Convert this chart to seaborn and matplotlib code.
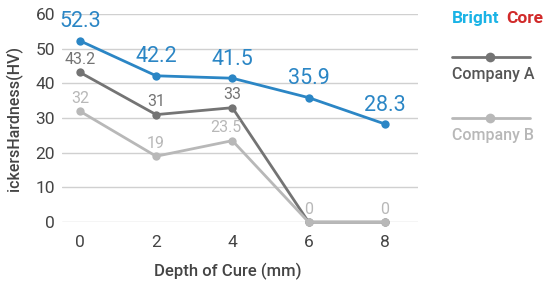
import numpy as np
import pandas as pd
import matplotlib.pyplot as plt
import seaborn as sns
from matplotlib.lines import Line2D

# Data
depth = [0, 2, 4, 6, 8]
bright_core = [52.3, 42.2, 41.5, 35.9, 28.3]
company_a = [43.2, 31, 33, 0, 0]
company_b = [32, 19, 23.5, 0, 0]
y_ticks = [0, 10, 20, 30, 40, 50, 60]

blue = '#2b86c5'
dark = '#747474'
light = '#b8b8b8'

sns.set_style('white')
plt.rcParams['font.family'] = ['Roboto', 'DejaVu Sans']

fig = plt.figure(figsize=(5.53, 2.87), dpi=100)
ax = fig.add_axes([0.112, 0.226, 0.644, 0.725])

df = pd.DataFrame({'depth': depth, 'Bright Core': bright_core,
                   'Company A': company_a, 'Company B': company_b})

for col, color in [('Company A', dark), ('Company B', light), ('Bright Core', blue)]:
    sns.lineplot(data=df, x='depth', y=col, ax=ax, color=color, lw=2,
                 marker='o', markersize=6, markeredgewidth=0, clip_on=False,
                 zorder=3)

# value labels
for x, v in zip(depth, bright_core):
    ax.annotate(f'{v:g}', (x, v), xytext=(0, 6), textcoords='offset points',
                ha='center', va='bottom', color=blue, fontsize=15.5, zorder=5)
for x, v in zip(depth[:3], company_a[:3]):
    ax.annotate(f'{v:g}', (x, v), xytext=(0, 4), textcoords='offset points',
                ha='center', va='bottom', color=dark, fontsize=11.5, zorder=5)
for x, v in zip(depth, company_b):
    dx = -5 if x == 4 else 0
    ax.annotate(f'{v:g}', (x, v), xytext=(dx, 4), textcoords='offset points',
                ha='center', va='bottom', color=light, fontsize=11.5, zorder=5)

ax.set_ylim(0, 60)
ax.set_xlim(-0.47, 8.87)
ax.set_yticks(y_ticks)
ax.set_xticks(depth)
ax.yaxis.grid(True, color='#d0d0d0', lw=1)
ax.set_axisbelow(True)
sns.despine(ax=ax, left=True, bottom=True, top=True, right=True)
ax.tick_params(axis='both', length=0, labelsize=12.5, labelcolor='#444444')
ax.tick_params(axis='x', pad=9)
ax.tick_params(axis='y', pad=5)

ax.set_xlabel('Depth of Cure (mm)', fontsize=12, color='#444444',
              fontweight='medium')
ax.xaxis.set_label_coords(0.466, -0.195)
ax.set_ylabel('ickersHardness(HV)', fontsize=11.5, color='#444444',
              fontweight='medium')
ax.yaxis.set_label_coords(-0.11, 0.5)

# legend on the right
fig.text(0.817, 0.935, 'Bright', color='#1ab3e6', fontsize=12.5, fontweight='bold',
         ha='left', va='center')
fig.text(0.915, 0.935, 'Core', color='#d12a2a', fontsize=12.5, fontweight='bold',
         ha='left', va='center')

fig.add_artist(Line2D([0.818, 0.958], [0.8, 0.8], color=dark, lw=2,
                      transform=fig.transFigure))
fig.add_artist(Line2D([0.886], [0.8], color=dark, marker='o', markersize=7,
                      markeredgewidth=0, lw=0, transform=fig.transFigure))
fig.text(0.818, 0.74, 'Company A', color='#555555', fontsize=11.5,
         fontweight='medium', ha='left', va='center')

fig.add_artist(Line2D([0.818, 0.958], [0.59, 0.59], color=light, lw=2,
                      transform=fig.transFigure))
fig.add_artist(Line2D([0.886], [0.59], color=light, marker='o', markersize=7,
                      markeredgewidth=0, lw=0, transform=fig.transFigure))
fig.text(0.818, 0.527, 'Company B', color=light, fontsize=11.5,
         fontweight='medium', ha='left', va='center')

fig.savefig('out.png', dpi=100)
